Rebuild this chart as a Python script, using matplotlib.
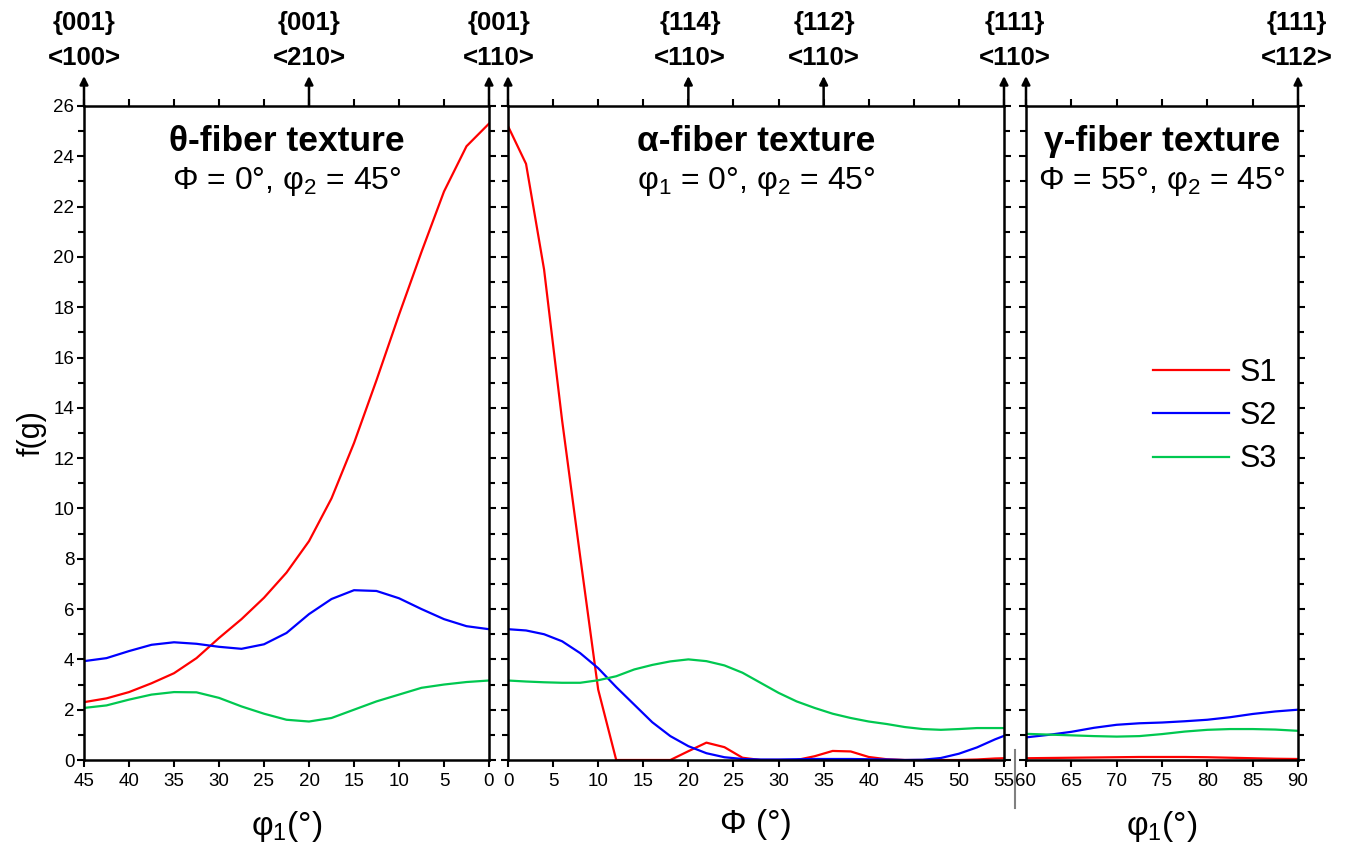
import matplotlib
matplotlib.use("Agg")
import matplotlib.pyplot as plt
from matplotlib.lines import Line2D

plt.rcParams['font.family'] = ['Liberation Sans', 'DejaVu Sans']
plt.rcParams['mathtext.fontset'] = 'custom'
plt.rcParams['mathtext.rm'] = 'Liberation Sans'
plt.rcParams['mathtext.it'] = 'Liberation Sans:italic'

# theta-fiber (phi1 from 45 down to 0)
theta_x = [45, 42.5, 40, 37.5, 35, 32.5, 30, 27.5, 25, 22.5, 20, 17.5, 15, 12.5, 10, 7.5, 5, 2.5, 0]
theta_s1 = [2.3, 2.45, 2.7, 3.05, 3.45, 4.05, 4.85, 5.6, 6.45, 7.45, 8.7, 10.4, 12.6, 15.1, 17.7, 20.2, 22.6, 24.4, 25.3]
theta_s2 = [3.93, 4.05, 4.33, 4.58, 4.68, 4.62, 4.5, 4.42, 4.6, 5.05, 5.8, 6.4, 6.75, 6.72, 6.43, 6.0, 5.6, 5.32, 5.2]
theta_s3 = [2.07, 2.17, 2.4, 2.6, 2.7, 2.69, 2.47, 2.13, 1.84, 1.6, 1.53, 1.67, 2.0, 2.33, 2.6, 2.87, 3.0, 3.1, 3.16]

# alpha-fiber (Phi 0..55)
alpha_x = [0, 2, 4, 6, 8, 10, 12, 14, 16, 18, 20, 22, 24, 26, 28, 30, 32, 34, 36, 38, 40, 42, 44, 46, 48, 50, 52, 54, 55]
alpha_s1 = [25.2, 23.7, 19.5, 13.5, 8.1, 2.8, 0, 0, 0, 0, 0.35, 0.69, 0.51, 0.09, 0, 0, 0, 0.15, 0.36, 0.34, 0.12, 0.03, 0, 0, 0, 0, 0.02, 0.06, 0.07]
alpha_s2 = [5.2, 5.15, 5.0, 4.72, 4.25, 3.65, 2.9, 2.2, 1.5, 0.95, 0.55, 0.27, 0.11, 0.04, 0.02, 0.02, 0.03, 0.04, 0.04, 0.04, 0.03, 0.02, 0.0, 0.01, 0.08, 0.25, 0.5, 0.82, 0.96]
alpha_s3 = [3.16, 3.12, 3.09, 3.07, 3.07, 3.17, 3.33, 3.6, 3.78, 3.92, 4.0, 3.93, 3.76, 3.47, 3.07, 2.67, 2.33, 2.07, 1.84, 1.67, 1.53, 1.43, 1.31, 1.23, 1.2, 1.23, 1.27, 1.27, 1.27]

# gamma-fiber (phi1 60..90)
gamma_x = [60, 62.5, 65, 67.5, 70, 72.5, 75, 77.5, 80, 82.5, 85, 87.5, 90]
gamma_s1 = [0.07, 0.08, 0.09, 0.1, 0.11, 0.12, 0.12, 0.12, 0.11, 0.09, 0.07, 0.05, 0.04]
gamma_s2 = [0.9, 1.0, 1.12, 1.28, 1.4, 1.46, 1.49, 1.54, 1.6, 1.7, 1.83, 1.93, 2.0]
gamma_s3 = [1.04, 1.01, 0.98, 0.95, 0.93, 0.95, 1.03, 1.13, 1.2, 1.23, 1.23, 1.21, 1.16]

labels = ['S1', 'S2', 'S3']
colors = ['#ff0000', '#0000ff', '#00c850']

W, H = 1349, 847
fig = plt.figure(figsize=(W / 100, H / 100), dpi=100)
bot = (H - 760) / H
hgt = 654 / H
ax1 = fig.add_axes([84 / W, bot, 405 / W, hgt])
ax2 = fig.add_axes([508 / W, bot, 496 / W, hgt])
ax3 = fig.add_axes([1026 / W, bot, 272 / W, hgt])

panels = [
    (ax1, theta_x, [theta_s1, theta_s2, theta_s3], (45, 0), [45, 40, 35, 30, 25, 20, 15, 10, 5, 0]),
    (ax2, alpha_x, [alpha_s1, alpha_s2, alpha_s3], (0, 55), [0, 5, 10, 15, 20, 25, 30, 35, 40, 45, 50, 55]),
    (ax3, gamma_x, [gamma_s1, gamma_s2, gamma_s3], (60, 90), [60, 65, 70, 75, 80, 85, 90]),
]

for ax, xs, ys, xl, xt in panels:
    for y, c, lab in zip(ys, colors, labels):
        ax.plot(xs, y, color=c, lw=1.6, label=lab)
    ax.set_xlim(*xl)
    ax.set_ylim(0, 26)
    ax.set_xticks(xt)
    ax.set_yticks(range(0, 27, 2))
    ax.set_yticks(range(0, 27, 1), minor=True)
    for s in ax.spines.values():
        s.set_linewidth(1.8)
    ax.tick_params(axis='both', which='both', direction='out', width=1.5,
                   top=True, right=True, labelsize=13.5, pad=2)
    ax.tick_params(axis='both', which='major', length=5)
    ax.tick_params(axis='y', which='minor', length=4)
    ax.tick_params(axis='x', pad=4)
    if ax is not ax1:
        ax.tick_params(axis='y', labelleft=False)

ax1.set_ylabel('f(g)', fontsize=22, labelpad=5)
ax1.set_xlabel(r'φ$_\mathregular{1}$(°)', fontsize=24, labelpad=14)
ax2.set_xlabel('Φ (°)', fontsize=24, labelpad=14)
ax3.set_xlabel(r'φ$_\mathregular{1}$(°)', fontsize=24, labelpad=14)

titles = ['θ-fiber texture', 'α-fiber texture', 'γ-fiber texture']
subtitles = ['Φ = 0°, φ$_\\mathregular{2}$ = 45°',
             'φ$_\\mathregular{1}$ = 0°, φ$_\\mathregular{2}$ = 45°',
             'Φ = 55°, φ$_\\mathregular{2}$ = 45°']
for ax, t, st in zip([ax1, ax2, ax3], titles, subtitles):
    ax.text(0.5, 0.945, t, transform=ax.transAxes, ha='center', va='center',
            fontsize=25.5, fontweight='bold')
    ax.text(0.5, 0.884, st, transform=ax.transAxes, ha='center', va='center',
            fontsize=23)

# orientation markers on top
arrow_pos = [(ax1, 45), (ax1, 20), (ax1, 0), (ax2, 0), (ax2, 20), (ax2, 35),
             (ax2, 55), (ax3, 60), (ax3, 90)]
for ax, xv in arrow_pos:
    ax.annotate('', xy=(xv, 1 + 30 / 654), xytext=(xv, 1.0),
                xycoords=('data', 'axes fraction'),
                textcoords=('data', 'axes fraction'),
                arrowprops=dict(arrowstyle='-|>', color='black', lw=1.8,
                                mutation_scale=12, shrinkA=0, shrinkB=0),
                annotation_clip=False)

top_labels = [(84, '{001}', '<100>'), (309, '{001}', '<210>'), (499, '{001}', '<110>'),
              (690, '{114}', '<110>'), (824, '{112}', '<110>'), (1015, '{111}', '<110>'),
              (1297, '{111}', '<112>')]
for px, a, b in top_labels:
    fig.text(px / W, 1 - 23 / H, a, ha='center', va='center', fontsize=18.5, fontweight='bold')
    fig.text(px / W, 1 - 58 / H, b, ha='center', va='center', fontsize=18.5, fontweight='bold')

leg = ax3.legend(loc='upper left', bbox_to_anchor=(1153 / W, 1 - 358 / H),
                 bbox_transform=fig.transFigure, frameon=False, fontsize=22,
                 handlelength=2.5, handletextpad=0.35, labelspacing=0.43,
                 borderpad=0, borderaxespad=0)

# axis break mark between alpha and gamma panels
fig.add_artist(Line2D([1015 / W, 1015 / W], [1 - 750 / H, 1 - 808 / H],
                      color='#808080', lw=1.5))

fig.savefig('out.png', dpi=100)
